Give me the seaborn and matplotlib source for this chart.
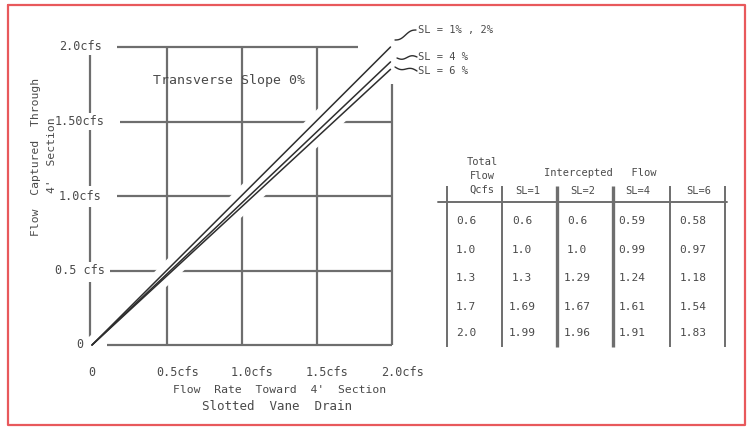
import numpy as np
import pandas as pd
import matplotlib
matplotlib.use("Agg")
import matplotlib.pyplot as plt
import seaborn as sns

# ---- data ----
# table values
total_flow = [0.6, 1.0, 1.3, 1.7, 2.0]
sl1 = [0.6, 1.0, 1.3, 1.69, 1.99]
sl2 = [0.6, 1.0, 1.29, 1.67, 1.96]
sl4 = [0.59, 0.99, 1.24, 1.61, 1.91]
sl6 = [0.58, 0.97, 1.18, 1.54, 1.83]
series_names = ["SL=1", "SL=2", "SL=4", "SL=6"]
# curves as drawn in the chart (straight from origin to end point)
curve_names = ["SL = 1% , 2%", "SL = 4 %", "SL = 6 %"]
curve_x = [0.0, 1.99]
curve_sl12 = [0.0, 2.0]
curve_sl4 = [0.0, 1.90]
curve_sl6 = [0.0, 1.85]
x_ticks = [0, 0.5, 1.0, 1.5, 2.0]
x_tick_labels = ["0", "0.5cfs", "1.0cfs", "1.5cfs", "2.0cfs"]
y_ticks = [0, 0.5, 1.0, 1.5, 2.0]
y_tick_labels = ["0", "0.5 cfs", "1.0cfs", "1.50cfs", "2.0cfs"]

sns.set_style("white")
plt.rcParams["font.family"] = ["DejaVu Sans Mono", "DejaVu Sans"]

W, H = 747, 428
fig = plt.figure(figsize=(W / 100, H / 100), dpi=100)
fig.patch.set_facecolor("white")

TXT = "#4a4a4a"
GRID = "#6e6e6e"
LINE = "#2e2e2e"

# main axes: data (0..2, 0..2) -> pixels x 92..392, y 345..47
x0, x1, yb, yt = 92, 392, 345, 47
ax = fig.add_axes([x0 / W, 1 - yb / H, (x1 - x0) / W, (yb - yt) / H])
ax.set_xlim(0, 2.0)
ax.set_ylim(0, 2.0)
ax.set_facecolor("none")
for s in ax.spines.values():
    s.set_visible(False)
ax.set_xticks([])
ax.set_yticks([])

def px2x(p):
    return (p - x0) / (x1 - x0) * 2.0

def py2y(p):
    return (yb - p) / (yb - yt) * 2.0

# grid
hl_start = {0: px2x(107), 0.5: px2x(110), 1.0: px2x(117), 1.5: px2x(120), 2.0: px2x(117)}
hl_end = {0: 2.0, 0.5: 2.0, 1.0: 2.0, 1.5: 2.0, 2.0: px2x(358)}
for yv in y_ticks:
    ax.plot([hl_start[yv], hl_end[yv]], [yv, yv], color=GRID, lw=1.6,
            solid_capstyle="butt", clip_on=False, zorder=1)
for xv in x_ticks[1:]:
    top = 2.0 if xv < 2.0 else py2y(84)
    ax.plot([xv, xv], [0, top], color=GRID, lw=1.6, solid_capstyle="butt",
            clip_on=False, zorder=1)
# broken y axis line
for a, b in [(55, 113), (130, 186), (207, 262), (282, 337)]:
    ax.plot([px2x(90), px2x(90)], [py2y(a), py2y(b)], color=GRID, lw=1.6,
            solid_capstyle="butt", clip_on=False, zorder=1)

# curves
rows = []
for name, vals in zip(curve_names, [curve_sl12, curve_sl4, curve_sl6]):
    for t, v in zip(curve_x, vals):
        rows.append({"series": name, "total": t, "captured": v})
df = pd.DataFrame(rows)
# white gap where curves cross the grid
sns.lineplot(data=df, x="total", y="captured", hue="series",
             palette={n: "white" for n in curve_names}, estimator=None,
             sort=False, lw=11, legend=False, ax=ax, zorder=2)
n_before = len(ax.lines)
sns.lineplot(data=df, x="total", y="captured", hue="series",
             palette={n: LINE for n in curve_names}, estimator=None,
             sort=False, lw=1.1, legend=False, ax=ax, zorder=3)
for l in ax.lines:
    l.set_clip_on(False)
ax.set_xlabel("")
ax.set_ylabel("")

# tick labels
for yv, lab in zip(y_ticks, y_tick_labels):
    ax.text(px2x(80), yv, lab, ha="center", va="center", fontsize=8.5,
            color=TXT, clip_on=False)
for xv, lab in zip(x_ticks, x_tick_labels):
    off = 0 if xv == 0 else 0.07
    ax.text(xv + off, py2y(373), lab, ha="center", va="center", fontsize=8.5,
            color=TXT, clip_on=False)

# overlay for labels / table / frame
ov = fig.add_axes([0, 0, 1, 1])
ov.set_xlim(0, W)
ov.set_ylim(H, 0)
ov.axis("off")
ov.set_zorder(5)

ov.text(229, 80, "Transverse Slope 0%", ha="center", va="center",
        fontsize=9.5, color=TXT)
ov.text(280, 390, "Flow  Rate  Toward  4'  Section", ha="center", va="center",
        fontsize=8.2, color=TXT)
ov.text(277, 407, "Slotted  Vane  Drain", ha="center", va="center",
        fontsize=9, color=TXT)
ov.text(36, 157, "Flow  Captured  Through", ha="center", va="center",
        rotation=90, fontsize=8.2, color=TXT)
ov.text(52, 155, "4'  Section", ha="center", va="center",
        rotation=90, fontsize=8.2, color=TXT)

# curve label leaders
def squiggle(xa, ya, xb, yb_):
    t = np.linspace(0, 1, 30)
    xs = xa + (xb - xa) * t
    ys = ya + (yb_ - ya) * t + 1.5 * np.sin(t * 2 * np.pi)
    ov.plot(xs, ys, color=LINE, lw=1.0)

squiggle(395, 40, 416, 30)
squiggle(397, 58, 417, 57)
squiggle(395, 67, 417, 71)
for (lx, ly), lab in zip([(418, 30), (418, 57), (418, 71)], curve_names):
    ov.text(lx, ly, lab, ha="left", va="center", fontsize=7.5, color=TXT)

# table
col_x = [466, 522, 577, 632, 693]
row_y = [221, 250, 278, 307, 333]
def fmt(v):
    s = f"{v:.2f}"
    if s.endswith("0"):
        s = s[:-1]
    return s
cols = [total_flow, sl1, sl2, sl4, sl6]
for cx, vals in zip(col_x, cols):
    for ry, v in zip(row_y, vals):
        ov.text(cx, ry, fmt(v), ha="center", va="center", fontsize=8,
                color=TXT)
ov.text(482, 162, "Total", ha="center", va="center", fontsize=7.5, color=TXT)
ov.text(482, 176, "Flow", ha="center", va="center", fontsize=7.5, color=TXT)
ov.text(482, 190, "Qcfs", ha="center", va="center", fontsize=7.5, color=TXT)
ov.text(600, 173, "Intercepted   Flow", ha="center", va="center",
        fontsize=7.5, color=TXT)
for cx, name in zip(col_x[1:], series_names):
    ov.text(cx + 6, 191, name, ha="center", va="center", fontsize=7.5,
            color=TXT)
ov.plot([438, 727], [202, 202], color=GRID, lw=1.4)
for vx, lw in zip([447, 502, 557, 613, 670, 725], [1.4, 1.4, 2.4, 2.4, 1.4, 1.4]):
    ov.plot([vx, vx], [186, 347], color=GRID, lw=lw, solid_capstyle="butt")

# frame
ov.plot([8, 745, 745, 8, 8], [5, 5, 425, 425, 5], color="#e8595c", lw=1.6)

fig.savefig("out.png", dpi=100, facecolor="white")
